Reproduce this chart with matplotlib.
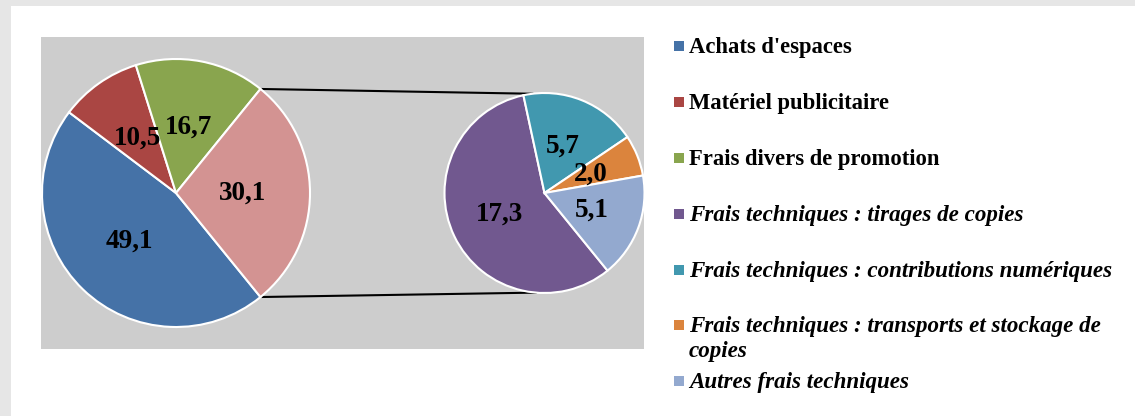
import matplotlib
matplotlib.use("Agg")
import matplotlib.pyplot as plt
from matplotlib.patches import Rectangle
import numpy as np

# ---- data ----
main_labels = ["Achats d'espaces", "Matériel publicitaire", "Frais divers de promotion"]
main_values = [49.1, 10.5, 16.7]
sub_labels = ["Frais techniques : tirages de copies",
              "Frais techniques : contributions numériques",
              "Frais techniques : transports et stockage de\ncopies",
              "Autres frais techniques"]
sub_values = [17.3, 5.7, 2.0, 5.1]

main_colors = ["#4572a7", "#aa4643", "#89a54e"]
other_color = "#d39392"
sub_colors = ["#71588f", "#4198af", "#db843d", "#93a9cf"]

W, H = 1135, 416
fig = plt.figure(figsize=(W / 100, H / 100), dpi=100)
fig.patch.set_facecolor("#e6e6e6")

def fx(x):
    return x / W

def fy(y):
    return 1 - y / H

# white panel
fig.patches.append(Rectangle((fx(11), 0), 1 - fx(11), fy(6), transform=fig.transFigure,
                             facecolor="white", edgecolor="none", zorder=-10))

# plot area
pl, pr, pt, pb = 41, 644, 37, 349
ax = fig.add_axes([fx(pl), fy(pb), fx(pr) - fx(pl), fy(pt) - fy(pb)])
ax.set_facecolor("#cdcdcd")

other_total = sum(sub_values)
all_main = main_values + [other_total]
tot_main = sum(all_main)
tot_sub = sum(sub_values)
start = -(other_total / tot_main) * 180.0

def fmt(v):
    return f"{v:.1f}".replace(".", ",")

lab_font = dict(family="Liberation Serif", weight="bold", size=19.5, color="black")

c1 = (176 - pl, pb - 193)
r1 = 134
c2 = (544.5 - pl, pb - 193)
r2 = 100

w1, _, _ = ax.pie(all_main, colors=main_colors + [other_color], startangle=start,
                  counterclock=False, center=c1, radius=r1, frame=True,
                  autopct=lambda p: fmt(p * tot_main / 100), pctdistance=0.5,
                  wedgeprops=dict(edgecolor="white", linewidth=1.5),
                  textprops=lab_font)
w2, _, _ = ax.pie(sub_values, colors=sub_colors, startangle=start,
                  counterclock=False, center=c2, radius=r2, frame=True,
                  autopct=lambda p: fmt(p * tot_sub / 100), pctdistance=0.5,
                  wedgeprops=dict(edgecolor="white", linewidth=1.5),
                  textprops=lab_font)

# connector lines from "other" wedge to secondary pie
ow = w1[-1]
for ang, ang2 in [(ow.theta2, 97), (ow.theta1, -95)]:
    a = np.deg2rad(ang)
    b = np.deg2rad(ang2)
    p1 = (c1[0] + r1 * np.cos(a), c1[1] + r1 * np.sin(a))
    p2 = (c2[0] + r2 * np.cos(b), c2[1] + r2 * np.sin(b))
    ax.plot([p1[0], p2[0]], [p1[1], p2[1]], color="black", lw=1.5, zorder=0.5)

ax.set_xlim(0, pr - pl)
ax.set_ylim(0, pb - pt)
ax.set_aspect("equal")
ax.set_xticks([])
ax.set_yticks([])
for s in ax.spines.values():
    s.set_visible(False)

# legend
leg_labels = main_labels + sub_labels
leg_colors = main_colors + sub_colors
leg_styles = ["normal"] * len(main_labels) + ["italic"] * len(sub_labels)
leg_sizes = [16.3] * len(main_labels) + [16.6] * len(sub_labels)
y0, dy = 46.3, 55.8
for i, (lab, col, st, sz) in enumerate(zip(leg_labels, leg_colors, leg_styles, leg_sizes)):
    yc = y0 + i * dy
    fig.patches.append(Rectangle((fx(674), fy(yc + 5)), 10 / W, 10 / H,
                                 transform=fig.transFigure, facecolor=col,
                                 edgecolor="none"))
    for j, line in enumerate(lab.split("\n")):
        fig.text(fx(689), fy(yc + 7 + j * 25), line, family="Liberation Serif",
                 weight="bold", style=st, size=sz, va="baseline", ha="left")

fig.savefig("out.png", dpi=100)
